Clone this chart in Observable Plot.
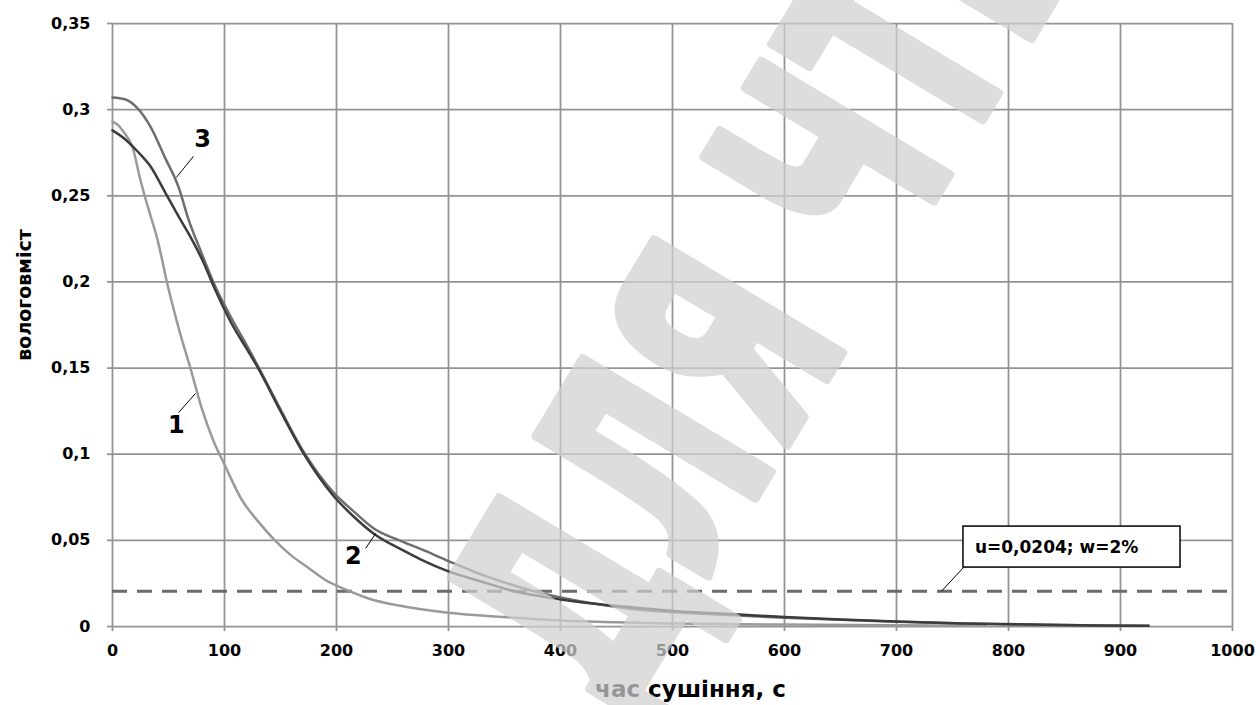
<!DOCTYPE html>
<html>
<head>
<meta charset="utf-8">
<script src="https://cdn.jsdelivr.net/npm/d3@7"></script>
<script src="https://cdn.jsdelivr.net/npm/@observablehq/plot@0.6"></script>
<style>
  html, body { margin: 0; padding: 0; background: white; }
  #chart svg { display: block; }
</style>
</head>
<body>
<div id="chart"></div>
<script>
// ---- data ----
const xTicks = [0, 100, 200, 300, 400, 500, 600, 700, 800, 900, 1000];
const yTicks = [0, 0.05, 0.1, 0.15, 0.2, 0.25, 0.3, 0.35];
const yTickLabels = ["0", "0,05", "0,1", "0,15", "0,2", "0,25", "0,3", "0,35"];

// curve 1
const time1 = [0, 5, 10, 18, 25, 30, 40, 50, 60, 70, 80, 90, 100, 115, 130, 145, 160, 175, 190, 210, 230, 257, 300, 350, 400, 450, 500, 600, 700, 780];
const moisture1 = [0.293, 0.291, 0.287, 0.278, 0.259, 0.247, 0.225, 0.196, 0.171, 0.149, 0.126, 0.108, 0.094, 0.074, 0.061, 0.050, 0.041, 0.034, 0.027, 0.021, 0.016, 0.012, 0.008, 0.0055, 0.0035, 0.0024, 0.0017, 0.0011, 0.0007, 0.0004];

// curves 2 and 3
const time23 = [0, 11, 22, 34, 47, 59, 68, 80, 92, 107, 120, 130, 150, 171, 197, 215, 233, 260, 275, 300, 330, 355, 385, 415, 440, 470, 500, 535, 600, 650, 700, 760, 820, 880, 925];
const moisture2 = [0.288, 0.283, 0.276, 0.267, 0.252, 0.238, 0.228, 0.213, 0.195, 0.175, 0.161, 0.150, 0.125, 0.100, 0.076, 0.064, 0.054, 0.044, 0.039, 0.032, 0.026, 0.021, 0.0172, 0.0143, 0.0125, 0.0108, 0.0090, 0.0078, 0.0055, 0.0041, 0.0029, 0.0018, 0.0011, 0.0006, 0.0004];
const moisture3 = [0.307, 0.306, 0.301, 0.290, 0.272, 0.255, 0.236, 0.216, 0.197, 0.178, 0.163, 0.151, 0.126, 0.101, 0.078, 0.067, 0.057, 0.049, 0.045, 0.038, 0.030, 0.0245, 0.019, 0.015, 0.0123, 0.0097, 0.0083, 0.0071, 0.0051, 0.0039, 0.0028, 0.0017, 0.0011, 0.0006, 0.0004];

const threshold = 0.0204;
const thresholdText = "u=0,0204; w=2%";
const curveNames = ["1", "2", "3"];
const xTitle = "час сушіння, с";
const yTitle = "вологовміст";
const watermarkText = "ДЛЯ ЧТЕНИЯ";

// ---- tables built from arrays ----
const curve1 = time1.map((t, i) => ({t, u: moisture1[i]}));
const curve2 = time23.map((t, i) => ({t, u: moisture2[i]}));
const curve3 = time23.map((t, i) => ({t, u: moisture3[i]}));

// annotation anchors (data coordinates)
const nameLabels = [
  {label: curveNames[0], t: 57, u: 0.1167},
  {label: curveNames[1], t: 215, u: 0.0406},
  {label: curveNames[2], t: 80.5, u: 0.2827}
];
const nameLeaders = [
  {t1: 59, u1: 0.1242, t2: 74, u2: 0.1352},
  {t1: 226, u1: 0.0453, t2: 235, u2: 0.054},
  {t1: 72.3, u1: 0.2729, t2: 57.1, u2: 0.2607}
];
const boxSpec = [{t1: 759.8, t2: 953.6, u1: 0.0342, u2: 0.0580, tt: 770, ut: 0.0458}];
const boxLeader = [{t1: 759.8, u1: 0.0342, t2: 740, u2: threshold}];
const watermark = [{text: watermarkText, t: 380, u: -0.0265}];

const gridColor = "#939393";
const font = "DejaVu Sans";

const chart = Plot.plot({
  width: 1260,
  height: 705,
  marginLeft: 112,
  marginRight: 28,
  marginTop: 23,
  marginBottom: 79,
  style: {fontFamily: font, fontWeight: "bold", fontSize: "16px", color: "black", background: "white"},
  x: {domain: [0, 1000]},
  y: {domain: [0, 0.35]},
  marks: [
    Plot.gridX(xTicks, {stroke: gridColor, strokeOpacity: 1, strokeWidth: 1.75}),
    Plot.gridY(yTicks, {stroke: gridColor, strokeOpacity: 1, strokeWidth: 1.75}),
    Plot.axisX(xTicks, {tickSize: 5, tickPadding: 13, stroke: gridColor, strokeWidth: 1.75, fill: "black", label: null, tickFormat: d => String(d), fontWeight: "bold", fontSize: 16}),
    Plot.axisY(yTicks, {tickSize: 5, tickPadding: 17, stroke: gridColor, strokeWidth: 1.75, fill: "black", label: null, tickFormat: d => yTickLabels[yTicks.indexOf(d)], fontWeight: "bold", fontSize: 16}),
    Plot.ruleY([threshold], {stroke: "#6b6b6b", strokeWidth: 3, strokeDasharray: "15,10"}),
    Plot.line(curve1, {x: "t", y: "u", stroke: "#9a9a9a", strokeWidth: 2.5, curve: "monotone-x"}),
    Plot.line(curve3, {x: "t", y: "u", stroke: "#6e6e6e", strokeWidth: 2.5, curve: "monotone-x"}),
    Plot.line(curve2, {x: "t", y: "u", stroke: "#3c3c3c", strokeWidth: 2.5, curve: "monotone-x"}),
    Plot.link(nameLeaders, {x1: "t1", y1: "u1", x2: "t2", y2: "u2", stroke: "black", strokeWidth: 1}),
    Plot.text(nameLabels, {x: "t", y: "u", text: "label", fontSize: 24, fontWeight: "bold", fill: "black"}),
    Plot.link(boxLeader, {x1: "t1", y1: "u1", x2: "t2", y2: "u2", stroke: "black", strokeWidth: 1}),
    Plot.rect(boxSpec, {x1: "t1", x2: "t2", y1: "u1", y2: "u2", fill: "white", stroke: "black", strokeWidth: 1.5}),
    Plot.text(boxSpec, {x: "tt", y: "ut", text: () => thresholdText, textAnchor: "start", fontSize: 17, fontWeight: "bold", fill: "black"}),
    Plot.text([yTitle], {frameAnchor: "left", dx: -88, dy: -30, rotate: -90, textAnchor: "middle", lineAnchor: "middle", fontSize: 19, fontWeight: "bold", fill: "black"}),
    Plot.text([xTitle], {frameAnchor: "bottom", dx: 18, dy: 63, textAnchor: "middle", lineAnchor: "middle", fontSize: 23, fontWeight: "bold", fill: "black"}),
    Plot.text(watermark, {x: "t", y: "u", text: "text", textAnchor: "start", lineAnchor: "middle", rotate: -59, fontSize: 300, fontWeight: "bold", fill: "#d0d0d0", stroke: "#d0d0d0", strokeWidth: 10, opacity: 0.72})
  ]
});

// condense the watermark glyphs along its baseline
d3.select(chart).selectAll("text")
  .filter(function() { return this.textContent === watermarkText; })
  .each(function() {
    const tr = this.getAttribute("transform") || "";
    this.setAttribute("transform", tr + " scale(0.6,1)");
  });

document.getElementById("chart").appendChild(chart);
</script>
</body>
</html>
